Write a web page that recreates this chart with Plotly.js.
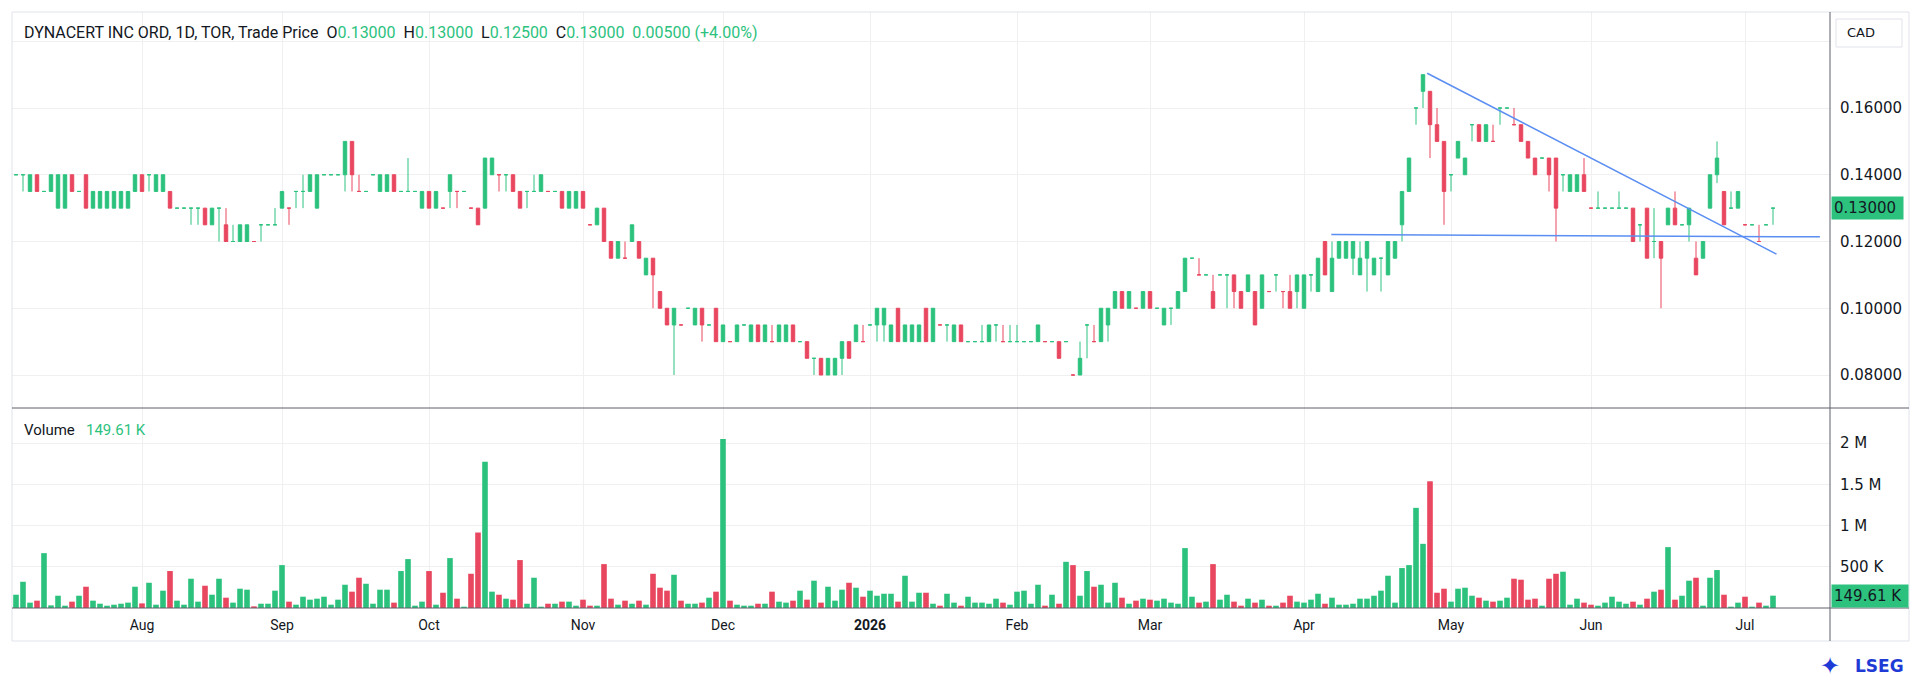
<!DOCTYPE html>
<html>
<head>
<meta charset="utf-8">
<script src="https://cdn.plot.ly/plotly-3.0.1.min.js"></script>
<style>
  html, body { margin: 0; padding: 0; background: #fff; }
  #chart { width: 1920px; height: 681px; }
</style>
</head>
<body>
<div id="chart"></div>
<script>
// DYNACERT INC ORD (TOR), daily bars, oldest first
const opens = [
  0.14, 0.14, 0.135, 0.14, 0.135, 0.135, 0.13, 0.13, 0.14, 0.135,
  0.14, 0.13, 0.13, 0.13, 0.13, 0.13, 0.13, 0.135, 0.14, 0.14,
  0.135, 0.135, 0.135, 0.13, 0.13, 0.13, 0.13, 0.13, 0.125, 0.13,
  0.125, 0.12, 0.12, 0.12, 0.12, 0.125, 0.125, 0.125, 0.13, 0.13,
  0.135, 0.135, 0.135, 0.13, 0.14, 0.14, 0.14, 0.14, 0.15, 0.135,
  0.135, 0.14, 0.135, 0.135, 0.14, 0.135, 0.135, 0.135, 0.13, 0.135,
  0.13, 0.13, 0.135, 0.135, 0.135, 0.13, 0.13, 0.13, 0.14, 0.14,
  0.14, 0.14, 0.135, 0.135, 0.135, 0.135, 0.135, 0.135, 0.135, 0.13,
  0.13, 0.135, 0.125, 0.125, 0.13, 0.12, 0.115, 0.115, 0.12, 0.12,
  0.11, 0.115, 0.105, 0.10, 0.095, 0.095, 0.10, 0.095, 0.10, 0.095,
  0.10, 0.09, 0.09, 0.09, 0.095, 0.09, 0.095, 0.09, 0.09, 0.09,
  0.09, 0.095, 0.09, 0.09, 0.085, 0.085, 0.08, 0.08, 0.085, 0.09,
  0.09, 0.09, 0.095, 0.095, 0.095, 0.09, 0.10, 0.09, 0.09, 0.09,
  0.10, 0.09, 0.095, 0.095, 0.09, 0.095, 0.09, 0.09, 0.09, 0.09,
  0.095, 0.09, 0.09, 0.09, 0.09, 0.09, 0.09, 0.09, 0.09, 0.09,
  0.09, 0.08, 0.08, 0.095, 0.09, 0.09, 0.095, 0.10, 0.105, 0.10,
  0.10, 0.10, 0.105, 0.10, 0.095, 0.10, 0.10, 0.105, 0.115, 0.11,
  0.11, 0.105, 0.11, 0.11, 0.11, 0.105, 0.105, 0.105, 0.10, 0.105,
  0.11, 0.105, 0.105, 0.105, 0.10, 0.11, 0.105, 0.12, 0.105, 0.115,
  0.115, 0.115, 0.11, 0.115, 0.11, 0.115, 0.11, 0.115, 0.125, 0.135,
  0.16, 0.165, 0.165, 0.155, 0.15, 0.14, 0.145, 0.14, 0.155, 0.155,
  0.15, 0.15, 0.16, 0.16, 0.155, 0.155, 0.15, 0.145, 0.145, 0.145,
  0.145, 0.14, 0.135, 0.135, 0.14, 0.13, 0.13, 0.13, 0.13, 0.13,
  0.13, 0.13, 0.125, 0.13, 0.12, 0.12, 0.125, 0.13, 0.125, 0.125,
  0.115, 0.115, 0.13, 0.14, 0.135, 0.13, 0.13, 0.125, 0.125, 0.12,
  0.125, 0.13,
];
const highs = [
  0.14, 0.14, 0.14, 0.14, 0.135, 0.14, 0.14, 0.14, 0.14, 0.135,
  0.14, 0.135, 0.135, 0.135, 0.135, 0.135, 0.135, 0.14, 0.14, 0.14,
  0.14, 0.14, 0.135, 0.13, 0.13, 0.13, 0.13, 0.13, 0.13, 0.13,
  0.13, 0.125, 0.125, 0.125, 0.12, 0.125, 0.125, 0.13, 0.135, 0.13,
  0.135, 0.14, 0.14, 0.14, 0.14, 0.14, 0.14, 0.15, 0.15, 0.14,
  0.135, 0.14, 0.14, 0.14, 0.14, 0.135, 0.145, 0.135, 0.135, 0.135,
  0.135, 0.13, 0.14, 0.135, 0.135, 0.13, 0.13, 0.145, 0.145, 0.14,
  0.14, 0.14, 0.135, 0.135, 0.14, 0.14, 0.135, 0.135, 0.135, 0.135,
  0.135, 0.135, 0.125, 0.13, 0.13, 0.12, 0.12, 0.12, 0.125, 0.12,
  0.115, 0.115, 0.105, 0.10, 0.10, 0.095, 0.10, 0.10, 0.10, 0.095,
  0.10, 0.095, 0.09, 0.095, 0.095, 0.095, 0.095, 0.095, 0.095, 0.095,
  0.095, 0.095, 0.09, 0.09, 0.085, 0.085, 0.085, 0.085, 0.09, 0.09,
  0.095, 0.095, 0.095, 0.10, 0.10, 0.095, 0.10, 0.095, 0.095, 0.095,
  0.10, 0.10, 0.095, 0.095, 0.095, 0.095, 0.09, 0.09, 0.095, 0.095,
  0.095, 0.095, 0.095, 0.095, 0.09, 0.09, 0.095, 0.09, 0.09, 0.09,
  0.09, 0.08, 0.09, 0.095, 0.095, 0.10, 0.10, 0.105, 0.105, 0.105,
  0.10, 0.105, 0.105, 0.10, 0.10, 0.10, 0.105, 0.115, 0.115, 0.115,
  0.11, 0.11, 0.11, 0.11, 0.11, 0.105, 0.11, 0.105, 0.11, 0.105,
  0.11, 0.105, 0.11, 0.11, 0.11, 0.11, 0.115, 0.12, 0.12, 0.12,
  0.12, 0.12, 0.12, 0.12, 0.115, 0.115, 0.12, 0.12, 0.135, 0.145,
  0.16, 0.17, 0.165, 0.16, 0.15, 0.14, 0.15, 0.145, 0.155, 0.155,
  0.155, 0.155, 0.16, 0.16, 0.16, 0.155, 0.15, 0.145, 0.145, 0.145,
  0.145, 0.14, 0.14, 0.14, 0.145, 0.13, 0.135, 0.13, 0.13, 0.135,
  0.13, 0.13, 0.125, 0.13, 0.13, 0.12, 0.13, 0.135, 0.125, 0.13,
  0.12, 0.12, 0.14, 0.15, 0.135, 0.135, 0.135, 0.125, 0.125, 0.125,
  0.125, 0.13,
];
const lows = [
  0.14, 0.135, 0.135, 0.135, 0.135, 0.135, 0.13, 0.13, 0.135, 0.135,
  0.13, 0.13, 0.13, 0.13, 0.13, 0.13, 0.13, 0.135, 0.135, 0.135,
  0.135, 0.135, 0.13, 0.13, 0.13, 0.125, 0.125, 0.125, 0.125, 0.12,
  0.12, 0.12, 0.12, 0.12, 0.12, 0.12, 0.125, 0.125, 0.13, 0.125,
  0.13, 0.13, 0.135, 0.13, 0.14, 0.14, 0.14, 0.135, 0.135, 0.135,
  0.135, 0.14, 0.135, 0.135, 0.135, 0.135, 0.135, 0.135, 0.13, 0.13,
  0.13, 0.13, 0.13, 0.13, 0.135, 0.13, 0.125, 0.13, 0.14, 0.135,
  0.135, 0.135, 0.13, 0.13, 0.135, 0.135, 0.135, 0.135, 0.13, 0.13,
  0.13, 0.13, 0.125, 0.125, 0.12, 0.115, 0.115, 0.115, 0.12, 0.115,
  0.11, 0.10, 0.10, 0.095, 0.08, 0.095, 0.10, 0.095, 0.09, 0.095,
  0.09, 0.09, 0.09, 0.09, 0.095, 0.09, 0.09, 0.09, 0.09, 0.09,
  0.09, 0.09, 0.09, 0.085, 0.08, 0.08, 0.08, 0.08, 0.08, 0.085,
  0.09, 0.09, 0.095, 0.09, 0.09, 0.09, 0.09, 0.09, 0.09, 0.09,
  0.09, 0.09, 0.095, 0.09, 0.09, 0.09, 0.09, 0.09, 0.09, 0.09,
  0.09, 0.09, 0.09, 0.09, 0.09, 0.09, 0.09, 0.09, 0.09, 0.085,
  0.09, 0.08, 0.08, 0.085, 0.09, 0.09, 0.09, 0.10, 0.10, 0.10,
  0.10, 0.10, 0.10, 0.10, 0.095, 0.095, 0.10, 0.105, 0.115, 0.11,
  0.11, 0.10, 0.11, 0.10, 0.10, 0.10, 0.105, 0.095, 0.10, 0.105,
  0.105, 0.10, 0.10, 0.10, 0.10, 0.105, 0.105, 0.11, 0.105, 0.115,
  0.115, 0.11, 0.11, 0.105, 0.11, 0.105, 0.11, 0.115, 0.12, 0.135,
  0.155, 0.16, 0.145, 0.15, 0.125, 0.135, 0.145, 0.14, 0.15, 0.15,
  0.15, 0.15, 0.155, 0.16, 0.155, 0.15, 0.145, 0.14, 0.145, 0.135,
  0.12, 0.135, 0.135, 0.135, 0.135, 0.13, 0.13, 0.13, 0.13, 0.13,
  0.13, 0.12, 0.12, 0.115, 0.115, 0.10, 0.125, 0.125, 0.125, 0.12,
  0.11, 0.115, 0.13, 0.1375, 0.125, 0.13, 0.13, 0.125, 0.125, 0.12,
  0.125, 0.125,
];
const closes = [
  0.14, 0.14, 0.14, 0.135, 0.135, 0.14, 0.14, 0.14, 0.135, 0.135,
  0.13, 0.135, 0.135, 0.135, 0.135, 0.135, 0.135, 0.14, 0.135, 0.14,
  0.14, 0.14, 0.13, 0.13, 0.13, 0.13, 0.13, 0.125, 0.13, 0.13,
  0.12, 0.12, 0.125, 0.125, 0.12, 0.125, 0.125, 0.125, 0.135, 0.13,
  0.135, 0.135, 0.14, 0.14, 0.14, 0.14, 0.14, 0.15, 0.14, 0.135,
  0.135, 0.14, 0.14, 0.14, 0.135, 0.135, 0.135, 0.135, 0.135, 0.13,
  0.135, 0.13, 0.14, 0.135, 0.135, 0.13, 0.125, 0.145, 0.145, 0.14,
  0.14, 0.135, 0.13, 0.135, 0.135, 0.14, 0.135, 0.135, 0.13, 0.135,
  0.135, 0.13, 0.125, 0.13, 0.12, 0.115, 0.12, 0.115, 0.125, 0.115,
  0.115, 0.11, 0.10, 0.095, 0.10, 0.095, 0.10, 0.10, 0.095, 0.095,
  0.09, 0.095, 0.09, 0.095, 0.095, 0.095, 0.09, 0.095, 0.09, 0.095,
  0.095, 0.09, 0.09, 0.085, 0.085, 0.08, 0.085, 0.085, 0.09, 0.085,
  0.095, 0.09, 0.095, 0.10, 0.10, 0.095, 0.09, 0.095, 0.095, 0.095,
  0.09, 0.10, 0.095, 0.095, 0.095, 0.09, 0.09, 0.09, 0.09, 0.095,
  0.095, 0.09, 0.09, 0.09, 0.09, 0.09, 0.095, 0.09, 0.09, 0.085,
  0.09, 0.08, 0.085, 0.095, 0.09, 0.10, 0.10, 0.105, 0.10, 0.105,
  0.10, 0.105, 0.10, 0.10, 0.10, 0.10, 0.105, 0.115, 0.115, 0.11,
  0.11, 0.10, 0.11, 0.11, 0.105, 0.10, 0.11, 0.095, 0.11, 0.105,
  0.11, 0.105, 0.10, 0.11, 0.11, 0.11, 0.115, 0.11, 0.115, 0.12,
  0.12, 0.12, 0.115, 0.12, 0.115, 0.115, 0.12, 0.12, 0.135, 0.145,
  0.16, 0.17, 0.155, 0.15, 0.135, 0.14, 0.15, 0.145, 0.155, 0.15,
  0.155, 0.15, 0.16, 0.16, 0.155, 0.15, 0.145, 0.14, 0.145, 0.14,
  0.13, 0.14, 0.14, 0.14, 0.135, 0.13, 0.13, 0.13, 0.13, 0.13,
  0.13, 0.12, 0.125, 0.115, 0.12, 0.115, 0.13, 0.125, 0.125, 0.13,
  0.11, 0.12, 0.14, 0.145, 0.125, 0.13, 0.135, 0.125, 0.125, 0.12,
  0.125, 0.13,
];
// volume in thousands of shares
const volumesK = [
  161, 318, 65, 89, 665, 32, 149, 28, 77, 149,
  258, 89, 52, 28, 40, 52, 65, 258, 56, 306,
  40, 210, 448, 89, 40, 355, 77, 270, 161, 355,
  125, 65, 234, 222, 20, 52, 52, 210, 520, 77,
  40, 137, 101, 113, 137, 40, 101, 282, 198, 367,
  294, 52, 222, 222, 65, 448, 593, 28, 77, 448,
  40, 185, 605, 113, 16, 415, 915, 1774, 198, 161,
  113, 101, 581, 52, 367, 16, 52, 52, 77, 77,
  28, 101, 28, 28, 532, 113, 40, 89, 52, 89,
  40, 415, 246, 210, 403, 89, 52, 52, 65, 125,
  198, 2048, 89, 40, 28, 28, 52, 52, 198, 77,
  65, 89, 210, 101, 331, 65, 258, 89, 222, 306,
  246, 137, 210, 149, 173, 173, 77, 391, 77, 185,
  185, 52, 28, 173, 65, 28, 137, 65, 65, 52,
  113, 65, 40, 198, 210, 52, 282, 28, 161, 52,
  560, 520, 149, 448, 258, 282, 65, 306, 125, 52,
  89, 113, 101, 89, 113, 65, 52, 726, 137, 65,
  77, 532, 101, 161, 77, 28, 113, 65, 101, 28,
  28, 65, 149, 77, 65, 101, 173, 52, 125, 40,
  40, 52, 113, 113, 149, 210, 391, 65, 484, 520,
  1214, 778, 1536, 185, 234, 77, 234, 246, 149, 125,
  89, 77, 89, 125, 355, 343, 101, 113, 28, 355,
  415, 440, 40, 113, 65, 40, 28, 65, 137, 77,
  52, 77, 40, 113, 198, 222, 738, 101, 149, 331,
  367, 28, 367, 460, 161, 16, 65, 137, 16, 65,
  28, 149.61,
];

// first trading day of each month (bar index) and its label
const monthTickIdx = [18, 38, 59, 81, 101, 122, 143, 162, 184, 205, 225, 247];
const monthTickText = ['Aug', 'Sep', 'Oct', 'Nov', 'Dec', '<b>2026</b>', 'Feb', 'Mar', 'Apr', 'May', 'Jun', 'Jul'];

const priceTicks = [0.08, 0.10, 0.12, 0.14, 0.16, 0.18];
const priceTickText = ['0.08000', '0.10000', '0.12000', '0.14000', '0.16000', ''];
const volTicks = [500000, 1000000, 1500000, 2000000];
const volTickText = ['500 K', '1 M', '1.5 M', '2 M'];

// drawn trendlines: [bar index], [price]
const resistanceX = [201.6, 251.5];
const resistanceY = [0.1704, 0.1162];
const supportX = [187.9, 257.7];
const supportY = [0.1221, 0.1214];

const lastPrice = 0.13;
const lastVolume = 149610;

const GREEN = '#2cc27e';
const RED = '#e8475f';
const TEXT = '#131722';
const GRID = '#f0f0f0';
const AXIS_LINE = '#5d606b';
const TREND = '#5b8ef2';
const FONT = 'Roboto, "DejaVu Sans", sans-serif';
const AXIS_FONT = '"DejaVu Sans", Roboto, sans-serif';

const barIdx = opens.map((_, i) => i);
const volumes = volumesK.map((v) => v * 1000);

// up/down per bar; a doji (open == close) is up unless it closed below the previous close
const isUp = closes.map((c, i) => {
  const o = opens[i];
  const prev = i > 0 ? closes[i - 1] : c;
  return c > o || (c === o && c >= prev);
});
const volColors = isUp.map((up) => (up ? GREEN : RED));
const pick = (arr, up) => arr.map((v, i) => (isUp[i] === up ? v : null));

// plot area: x 12..1830, y 12..608 ; price pane above 408, volume below
const PX_L = 12;
const PX_R = 1830;
const PX_T = 12;
const PX_B = 608;
const PANE_SPLIT = 408;
const pw = PX_R - PX_L;
const ph = PX_B - PX_T;
const px = (x) => (x - PX_L) / pw;
const py = (y) => (PX_B - y) / ph;

// price scale: 0.16 sits at y=108, 0.08 at y=375
const PX_PER_UNIT = (375 - 108) / 0.08;

// one candlestick trace per direction, so dojis get the same colour as their volume bar
const candleTrace = (up) => {
  const color = up ? GREEN : RED;
  return {
    type: 'candlestick',
    x: barIdx,
    open: pick(opens, up),
    high: pick(highs, up),
    low: pick(lows, up),
    close: pick(closes, up),
    increasing: { line: { color, width: 1 }, fillcolor: color },
    decreasing: { line: { color, width: 1 }, fillcolor: color },
    whiskerwidth: 0,
    hoverinfo: 'skip',
    xaxis: 'x',
    yaxis: 'y',
  };
};

const traces = [
  candleTrace(true),
  candleTrace(false),
  {
    type: 'scatter',
    mode: 'lines',
    x: resistanceX,
    y: resistanceY,
    line: { color: TREND, width: 1.5 },
    hoverinfo: 'skip',
    xaxis: 'x',
    yaxis: 'y',
  },
  {
    type: 'scatter',
    mode: 'lines',
    x: supportX,
    y: supportY,
    line: { color: TREND, width: 1.5 },
    hoverinfo: 'skip',
    xaxis: 'x',
    yaxis: 'y',
  },
  {
    type: 'bar',
    x: barIdx,
    y: volumes,
    width: 0.8,
    marker: { color: volColors, line: { width: 0 } },
    hoverinfo: 'skip',
    xaxis: 'x',
    yaxis: 'y2',
  },
];

const g = (v) => `<span style="color:${GREEN}">${v}</span>`;
const headerText = 'DYNACERT INC ORD, 1D, TOR, Trade Price&nbsp;&nbsp;'
  + `O${g('0.13000')}&nbsp;&nbsp;H${g('0.13000')}&nbsp;&nbsp;L${g('0.12500')}&nbsp;&nbsp;C${g('0.13000')}&nbsp;&nbsp;${g('0.00500 (+4.00%)')}`;

const layout = {
  width: 1920,
  height: 681,
  margin: { l: PX_L, r: 1920 - PX_R, t: PX_T, b: 681 - PX_B },
  paper_bgcolor: '#ffffff',
  plot_bgcolor: '#ffffff',
  showlegend: false,
  dragmode: false,
  hovermode: false,
  font: { family: FONT, size: 14, color: TEXT },
  xaxis: {
    range: [(PX_L - 16) / 7, (PX_R - 16) / 7],
    anchor: 'y2',
    rangeslider: { visible: false },
    tickmode: 'array',
    tickvals: monthTickIdx,
    ticktext: monthTickText,
    showgrid: true,
    gridcolor: GRID,
    gridwidth: 1,
    zeroline: false,
    showline: false,
    ticks: '',
    ticklabelstandoff: 7,
    tickfont: { family: FONT, size: 14, color: TEXT },
  },
  yaxis: {
    domain: [py(PANE_SPLIT), 1],
    range: [0.08 - (PANE_SPLIT - 375) / PX_PER_UNIT, 0.16 + (108 - PX_T) / PX_PER_UNIT],
    side: 'right',
    tickmode: 'array',
    tickvals: priceTicks,
    ticktext: priceTickText,
    showgrid: true,
    gridcolor: GRID,
    zeroline: false,
    showline: false,
    ticks: '',
    ticklabelstandoff: 9,
    tickfont: { family: AXIS_FONT, size: 15, color: TEXT },
  },
  yaxis2: {
    domain: [0, py(PANE_SPLIT)],
    range: [0, 2000000 * (PX_B - PANE_SPLIT) / 165],
    side: 'right',
    anchor: 'x',
    tickmode: 'array',
    tickvals: volTicks,
    ticktext: volTickText,
    showgrid: true,
    gridcolor: GRID,
    zeroline: false,
    showline: false,
    ticks: '',
    ticklabelstandoff: 9,
    tickfont: { family: AXIS_FONT, size: 15, color: TEXT },
  },
  shapes: [
    // outer frame
    {
      type: 'rect', xref: 'paper', yref: 'paper',
      x0: 0, x1: px(1909), y0: py(641), y1: 1,
      line: { color: '#e0e3eb', width: 1 },
    },
    // price scale border
    {
      type: 'line', xref: 'paper', yref: 'paper',
      x0: 1, x1: 1, y0: py(641), y1: 1,
      line: { color: AXIS_LINE, width: 1 },
    },
    // pane separator
    {
      type: 'line', xref: 'paper', yref: 'paper',
      x0: 0, x1: px(1909), y0: py(PANE_SPLIT), y1: py(PANE_SPLIT),
      line: { color: AXIS_LINE, width: 1 },
    },
    // time scale border
    {
      type: 'line', xref: 'paper', yref: 'paper',
      x0: 0, x1: px(1909), y0: 0, y1: 0,
      line: { color: AXIS_LINE, width: 1 },
    },
    // currency box
    {
      type: 'rect', xref: 'paper', yref: 'paper',
      x0: px(1836), x1: px(1902), y0: py(47), y1: py(19),
      line: { color: '#e0e3eb', width: 1 },
      fillcolor: '#ffffff',
    },
  ],
  annotations: [
    {
      xref: 'paper', yref: 'paper', x: px(22), y: py(33),
      xanchor: 'left', yanchor: 'middle', showarrow: false,
      text: headerText,
      font: { family: FONT, size: 16, color: TEXT },
    },
    {
      xref: 'paper', yref: 'paper', x: px(22), y: py(430),
      xanchor: 'left', yanchor: 'middle', showarrow: false,
      text: `Volume&nbsp;&nbsp;&nbsp;${g('149.61 K')}`,
      font: { family: FONT, size: 15, color: TEXT },
    },
    {
      xref: 'paper', yref: 'paper', x: px(1845), y: py(33),
      xanchor: 'left', yanchor: 'middle', showarrow: false,
      text: 'CAD',
      font: { family: AXIS_FONT, size: 13, color: TEXT },
    },
    {
      xref: 'paper', yref: 'y', x: 1, y: lastPrice,
      xanchor: 'left', yanchor: 'middle', showarrow: false,
      text: '0.13000&nbsp;',
      bgcolor: GREEN, borderpad: 2, xshift: 1,
      font: { family: AXIS_FONT, size: 15, color: TEXT },
    },
    {
      xref: 'paper', yref: 'y2', x: 1, y: lastVolume,
      xanchor: 'left', yanchor: 'middle', showarrow: false,
      text: '149.61 K&nbsp;',
      bgcolor: GREEN, borderpad: 2, xshift: 1,
      font: { family: AXIS_FONT, size: 15, color: TEXT },
    },
    {
      xref: 'paper', yref: 'paper', x: px(1906), y: py(666),
      xanchor: 'right', yanchor: 'middle', showarrow: false,
      text: '<b>LSEG</b>',
      font: { family: AXIS_FONT, size: 17, color: '#1f3bd6' },
    },
    {
      xref: 'paper', yref: 'paper', x: px(1830), y: py(666),
      xanchor: 'center', yanchor: 'middle', showarrow: false,
      text: '<b>✦</b>',
      font: { family: AXIS_FONT, size: 24, color: '#1f3bd6' },
    },
  ],
};

Plotly.newPlot('chart', traces, layout, { displayModeBar: false, staticPlot: true });
</script>
</body>
</html>
